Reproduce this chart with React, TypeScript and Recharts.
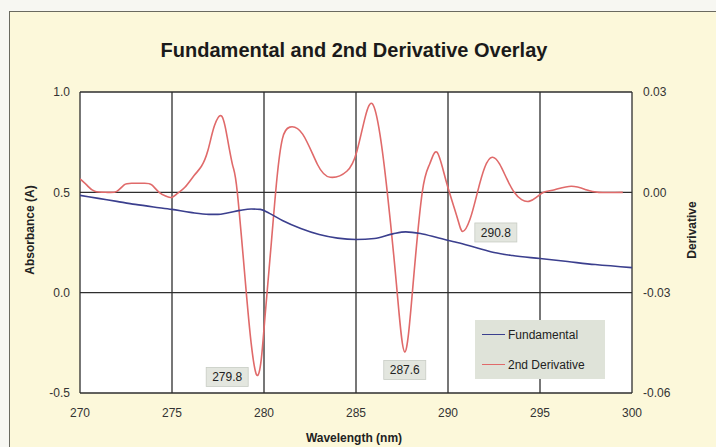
import React from "react";
import {
  ComposedChart,
  Line,
  XAxis,
  YAxis,
  CartesianGrid,
  ReferenceDot,
} from "recharts";

// Wavelength (nm) ticks
const wavelengthTicks = [270, 275, 280, 285, 290, 295, 300];
const absorbanceTicks = [-0.5, 0.0, 0.5, 1.0];
const derivativeTicks = [-0.06, -0.03, 0.0, 0.03];

// Fundamental spectrum (absorbance)
const fundamentalNm = [
  270, 271, 272, 273, 274, 275, 276, 277, 277.5, 278, 278.7, 279.3, 279.8, 280.3,
  281, 282, 283, 284, 285, 286, 287, 287.7, 288.5, 289.5, 290.5, 291.5, 292.5,
  293.5, 295, 296.5, 298, 300,
];
const fundamentalA = [
  0.485, 0.47, 0.455, 0.44, 0.427, 0.415, 0.4, 0.39, 0.39, 0.397, 0.41, 0.417,
  0.415, 0.395, 0.36, 0.32, 0.29, 0.272, 0.265, 0.27, 0.293, 0.303, 0.295, 0.272,
  0.25, 0.225, 0.2, 0.185, 0.17, 0.155, 0.14, 0.125,
];

// 2nd derivative spectrum
const derivNm = [
  270.0, 270.4, 270.8, 271.5, 272.0, 272.4, 272.8, 273.5, 273.9, 274.3, 274.7,
  275.0, 275.3, 275.7, 276.2, 276.6, 276.95, 277.3, 277.7, 278.0, 278.3, 278.55,
  279.0, 279.3, 279.6, 279.85, 280.05, 280.4, 280.7, 281.0, 281.4, 282.1, 282.9,
  283.6, 284.5, 285.05, 285.5, 285.9, 286.3, 286.7, 287.2, 287.65, 288.1, 288.6,
  289.0, 289.4, 289.9, 290.5, 290.8, 291.2, 291.6, 292.0, 292.4, 292.8, 293.2,
  293.6, 294.0, 294.4, 294.8, 295.2, 295.8, 296.7, 297.5, 298.2, 299.5,
];
const derivValue = [
  0.004, 0.002, 0.0003, 0.0, 0.0003, 0.0022, 0.0027, 0.0027, 0.0022, 0.0, -0.0012,
  -0.0015, -0.0003, 0.0015, 0.005, 0.0078, 0.0125, 0.0198, 0.0228, 0.0165, 0.008,
  0.0, -0.0276, -0.045, -0.0546, -0.05, -0.0375, -0.015, 0.004, 0.016, 0.0195,
  0.0174, 0.0084, 0.0045, 0.0063, 0.0123, 0.0225, 0.0264, 0.0174, 0.0, -0.0276,
  -0.0477, -0.0276, 0.0, 0.0084, 0.012, 0.0033, -0.0075, -0.0117, -0.008, 0.0,
  0.0075, 0.0105, 0.0085, 0.004, 0.0, -0.0022, -0.0027, -0.0015, 0.0, 0.0008,
  0.0018, 0.0008, 0.0, 0.0,
];

// Peak annotations
const peakLabels = ["279.8", "287.6", "290.8"];
const peakLabelNm = [278.0, 287.65, 292.6];
const peakLabelA = [-0.42, -0.385, 0.3];

const seriesNames = ["Fundamental", "2nd Derivative"];

const fundamentalData = fundamentalNm.map((nm, i) => ({ nm, value: fundamentalA[i] }));
const derivData = derivNm.map((nm, i) => ({ nm, value: derivValue[i] }));

const FONT = '"Liberation Sans", Arial, Helvetica, sans-serif';
const BLUE = "#3b3f8e";
const RED = "#e06a6a";
const seriesColors = [BLUE, RED];

const LabelBox = (text: string) => (props: any) => {
  const { cx, cy } = props;
  const w = 42;
  const h = 19;
  return (
    <g>
      <rect x={cx - w / 2} y={cy - h / 2} width={w} height={h} fill="#e3e6df" stroke="#c8ccc4" strokeWidth={0.8} />
      <text x={cx} y={cy + 4.5} textAnchor="middle" fontSize={12} fontFamily={FONT} fill="#222">
        {text}
      </text>
    </g>
  );
};

const LegendBox = () => (
  <div
    style={{
      position: "absolute",
      left: 475,
      top: 320,
      width: 130,
      height: 59,
      background: "#dfe3d9",
      fontFamily: FONT,
      fontSize: 12,
      color: "#222",
      boxSizing: "border-box",
      paddingTop: 7,
    }}
  >
    {seriesNames.map((name, i) => (
      <div key={name} style={{ display: "flex", alignItems: "center", height: 15, marginTop: i === 0 ? 0 : 15 }}>
        <div style={{ width: 23, height: 0, borderTop: `1.5px solid ${seriesColors[i]}`, marginLeft: 7, marginRight: 3 }} />
        <span>{name}</span>
      </div>
    ))}
  </div>
);

const axisTitle = {
  position: "absolute" as const,
  whiteSpace: "nowrap" as const,
  fontFamily: FONT,
  fontWeight: "bold" as const,
  fontSize: 12,
  color: "#222",
};

export default function App() {
  return (
    <div style={{ position: "absolute", left: 0, top: 0, width: 716, height: 447, overflow: "hidden", background: "#f7f7f2" }}>
      <div
        style={{
          position: "absolute",
          left: 9,
          top: 11,
          width: 760,
          height: 480,
          border: "1.5px solid #6a6a60",
          background: "#fcf8da",
        }}
      />
      <div
        style={{
          position: "absolute",
          left: 354,
          top: 50,
          transform: "translate(-50%, -50%)",
          whiteSpace: "nowrap",
          fontFamily: FONT,
          fontWeight: "bold",
          fontSize: 20,
          color: "#1a1a1a",
        }}
      >
        Fundamental and 2nd Derivative Overlay
      </div>
      <div style={{ ...axisTitle, left: 30, top: 230, transform: "translate(-50%, -50%) rotate(-90deg)" }}>
        Absorbance (A)
      </div>
      <div style={{ ...axisTitle, left: 692, top: 230, transform: "translate(-50%, -50%) rotate(-90deg)" }}>
        Derivative
      </div>
      <div style={{ ...axisTitle, left: 354, top: 438, transform: "translate(-50%, -50%)" }}>
        Wavelength (nm)
      </div>
      <div style={{ position: "absolute", left: 0, top: 0 }}>
        <ComposedChart width={716} height={447} margin={{ top: 92, right: 0, bottom: 0, left: 0 }}>
          <CartesianGrid
            xAxisId="x"
            yAxisId="left"
            fill="#ffffff"
            stroke="#2e2e2e"
            strokeWidth={1.3}
            horizontal
            vertical
          />
          <XAxis
            xAxisId="x"
            dataKey="nm"
            type="number"
            domain={[270, 300]}
            ticks={wavelengthTicks}
            allowDataOverflow
            height={54}
            axisLine={false}
            tickLine={false}
            tickMargin={9}
            tick={{ fontSize: 12, fontFamily: FONT, fill: "#333" }}
          />
          <YAxis
            yAxisId="left"
            orientation="left"
            width={80}
            domain={[-0.5, 1.0]}
            ticks={absorbanceTicks}
            allowDataOverflow
            axisLine={false}
            tickLine={false}
            tickMargin={4}
            tickFormatter={(v: number) => v.toFixed(1)}
            tick={{ fontSize: 12, fontFamily: FONT, fill: "#333" }}
          />
          <YAxis
            yAxisId="right"
            orientation="right"
            width={84}
            domain={[-0.06, 0.03]}
            ticks={derivativeTicks}
            allowDataOverflow
            axisLine={false}
            tickLine={false}
            tickMargin={5}
            tickFormatter={(v: number) => v.toFixed(2)}
            tick={{ fontSize: 12, fontFamily: FONT, fill: "#333" }}
          />
          <Line
            xAxisId="x"
            yAxisId="right"
            data={derivData}
            dataKey="value"
            name="2nd Derivative"
            type="natural"
            stroke={RED}
            strokeWidth={1.6}
            dot={false}
            isAnimationActive={false}
          />
          <Line
            xAxisId="x"
            yAxisId="left"
            data={fundamentalData}
            dataKey="value"
            name="Fundamental"
            type="monotone"
            stroke={BLUE}
            strokeWidth={1.6}
            dot={false}
            isAnimationActive={false}
          />
          {peakLabels.map((t, i) => (
            <ReferenceDot
              key={t}
              xAxisId="x"
              yAxisId="left"
              x={peakLabelNm[i]}
              y={peakLabelA[i]}
              r={0}
              ifOverflow="visible"
              shape={LabelBox(t)}
            />
          ))}
        </ComposedChart>
      </div>
      <LegendBox />
    </div>
  );
}
